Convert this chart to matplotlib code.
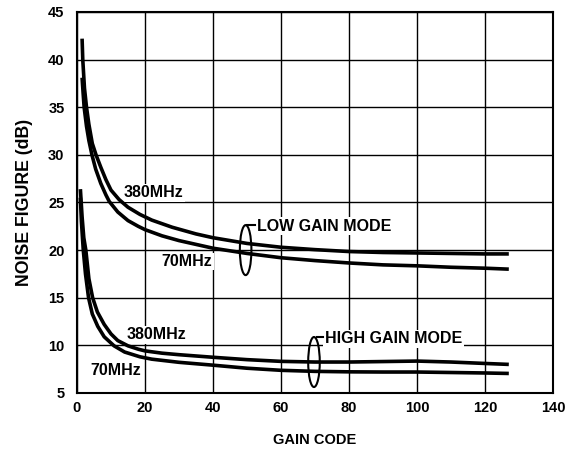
import matplotlib.pyplot as plt
from matplotlib.patches import Ellipse

plt.rcParams['font.family'] = ['Liberation Sans', 'DejaVu Sans']
plt.rcParams['font.weight'] = 'bold'

# low gain mode, 380MHz
lg380_x = [1.5, 1.7, 2.2, 2.8, 3.5, 4.5, 5.6, 7, 8.5, 10, 12.4, 15, 18.5, 22, 28, 35, 40, 50, 60, 70, 80, 90, 100, 110, 120, 127]
lg380_y = [42.2, 40, 37, 35, 33.2, 31.2, 30, 28.7, 27.4, 26.3, 25.3, 24.5, 23.75, 23.15, 22.4, 21.7, 21.3, 20.7, 20.3, 20.05, 19.85, 19.75, 19.7, 19.65, 19.6, 19.6]

# low gain mode, 70MHz
lg70_x = [1.5, 1.8, 2.1, 2.8, 3.5, 4.4, 5.5, 7, 8.5, 9.5, 12, 15, 18, 20, 25, 30, 40, 50, 60, 70, 80, 90, 100, 110, 120, 127]
lg70_y = [38.1, 36.5, 35, 33.0, 31.5, 30, 28.5, 27.0, 25.8, 25.1, 24.0, 23.1, 22.5, 22.15, 21.5, 21.0, 20.2, 19.65, 19.2, 18.9, 18.65, 18.45, 18.35, 18.2, 18.1, 18.0]

# high gain mode, 380MHz
hg380_x = [1, 1.5, 2, 2.6, 3.5, 4.6, 6, 8, 10, 12, 15, 18, 20, 25, 30, 40, 50, 60, 70, 80, 90, 100, 110, 120, 127]
hg380_y = [26.4, 23.5, 21.3, 20, 17, 15, 13.5, 12.2, 11.2, 10.5, 9.95, 9.6, 9.42, 9.18, 9.02, 8.75, 8.5, 8.32, 8.25, 8.25, 8.3, 8.35, 8.25, 8.1, 8.0]

# high gain mode, 70MHz
hg70_x = [1, 1.3, 1.85, 2.5, 3.4, 4.5, 6.1, 8, 10.9, 14, 18.5, 22, 30, 40, 50, 60, 70, 80, 90, 100, 110, 120, 127]
hg70_y = [25.5, 23, 20, 17.5, 15, 13.3, 12.0, 10.9, 9.95, 9.3, 8.8, 8.55, 8.22, 7.92, 7.6, 7.38, 7.27, 7.22, 7.2, 7.2, 7.15, 7.1, 7.05]

x_ticks = [0, 20, 40, 60, 80, 100, 120, 140]
y_ticks = [5, 10, 15, 20, 25, 30, 35, 40, 45]

fig = plt.figure(figsize=(5.72, 4.54), dpi=100)
ax = fig.add_axes([0.1346, 0.1344, 0.8322, 0.8392])

for xs, ys in [(lg380_x, lg380_y), (lg70_x, lg70_y), (hg380_x, hg380_y), (hg70_x, hg70_y)]:
    ax.plot(xs, ys, color="black", lw=2.6, solid_capstyle="butt", zorder=3)

ax.set_xlim(0, 140)
ax.set_ylim(5, 45)
ax.set_xticks(x_ticks)
ax.set_yticks(y_ticks)
ax.grid(True, color="black", lw=1.0)
ax.set_axisbelow(True)
for s in ax.spines.values():
    s.set_linewidth(1.5)
ax.tick_params(length=0, labelsize=10.5)
ax.tick_params(axis="y", pad=9)
ax.tick_params(axis="x", pad=6)
for lbl in ax.get_xticklabels() + ax.get_yticklabels():
    lbl.set_fontweight("bold")

ax.set_xlabel("GAIN CODE", fontsize=10.5, fontweight="bold", labelpad=13)
ax.set_ylabel("NOISE FIGURE (dB)", fontsize=12.8, fontweight="bold", labelpad=11)

# labels hide the grid but sit under the curves
box = dict(facecolor="white", edgecolor="none", pad=1)
ax.text(13.8, 26.0, "380MHz", fontsize=11.5, fontweight="bold", va="center", bbox=box, zorder=2.5)
ax.text(24.9, 18.8, "70MHz", fontsize=11.5, fontweight="bold", va="center", bbox=box, zorder=2.5)
ax.text(14.6, 11.1, "380MHz", fontsize=11.5, fontweight="bold", va="center", bbox=box, zorder=2.5)
ax.text(3.8, 7.4, "70MHz", fontsize=11.5, fontweight="bold", va="center", bbox=box, zorder=2.5)

ax.add_patch(Ellipse((49.6, 20.0), 3.4, 5.25, fill=False, ec="black", lw=1.5, zorder=4))
ax.plot([49.9, 52.4], [22.64, 22.64], color="black", lw=1.5, zorder=4)
ax.text(52.9, 22.5, "LOW GAIN MODE", fontsize=11.5, fontweight="bold", va="center", bbox=box, zorder=2.5)

ax.add_patch(Ellipse((69.7, 8.25), 3.4, 5.25, fill=False, ec="black", lw=1.5, zorder=4))
ax.plot([70.5, 72.4], [10.85, 10.85], color="black", lw=1.5, zorder=4)
ax.text(72.9, 10.7, "HIGH GAIN MODE", fontsize=11.5, fontweight="bold", va="center", bbox=box, zorder=2.5)

fig.savefig("out.png", dpi=100)
